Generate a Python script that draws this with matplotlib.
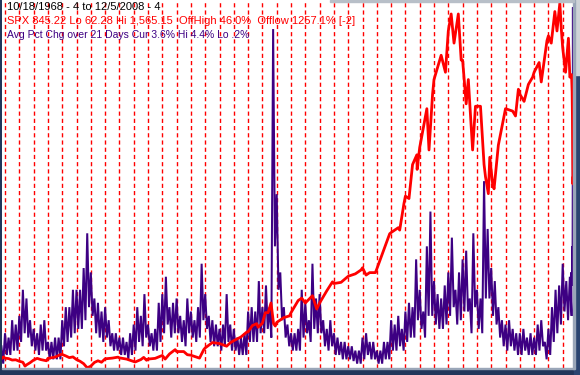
import numpy as np
import matplotlib
matplotlib.use('Agg')
import matplotlib.pyplot as plt
from matplotlib.patches import Rectangle

# SPX close (year, value)
spx_years = [1968.80, 1968.90, 1969.00, 1969.25, 1969.50, 1969.75, 1970.00, 1970.25, 1970.40, 1970.50,
             1970.75, 1971.00, 1971.25, 1971.50, 1971.90, 1972.00, 1972.50, 1972.90, 1973.00, 1973.25,
             1973.50, 1973.75, 1974.00, 1974.25, 1974.50, 1974.75, 1975.00, 1975.25, 1975.50, 1975.75,
             1976.00, 1976.50, 1976.90, 1977.00, 1977.50, 1978.10, 1978.50, 1978.70, 1978.90, 1979.00,
             1979.50, 1979.75, 1980.00, 1980.20, 1980.50, 1980.90, 1981.00, 1981.50, 1981.75, 1982.00,
             1982.60, 1982.90, 1983.00, 1983.50, 1983.90, 1984.00, 1984.50, 1984.75, 1985.00, 1985.50,
             1985.90, 1986.00, 1986.30, 1986.60, 1986.70, 1987.00, 1987.20, 1987.40, 1987.60, 1987.78,
             1987.90, 1988.00, 1988.50, 1988.90, 1989.00, 1989.50, 1989.75, 1990.00, 1990.50, 1990.80,
             1991.00, 1991.50, 1991.90, 1992.00, 1992.50, 1992.90, 1993.00, 1993.50, 1993.90, 1994.00,
             1994.25, 1994.50, 1994.90, 1995.00, 1995.50, 1995.90, 1996.00, 1996.50, 1996.60, 1996.90,
             1997.00, 1997.25, 1997.50, 1997.80, 1997.82, 1998.00, 1998.50, 1998.65, 1998.90, 1999.00,
             1999.50, 1999.80, 2000.00, 2000.20, 2000.40, 2000.70, 2000.90, 2001.00, 2001.25, 2001.40,
             2001.70, 2001.90, 2002.00, 2002.25, 2002.50, 2002.60, 2002.80, 2002.90, 2003.10, 2003.20,
             2003.50, 2003.90, 2004.00, 2004.50, 2004.70, 2004.90, 2005.00, 2005.30, 2005.60, 2005.90,
             2006.00, 2006.35, 2006.50, 2006.90, 2007.00, 2007.20, 2007.45, 2007.60, 2007.80, 2007.90,
             2008.00, 2008.20, 2008.40, 2008.50, 2008.62, 2008.66, 2008.68, 2008.70, 2008.715, 2008.72]
spx_vals = [103, 108, 103, 101, 95, 96, 90, 86, 70, 75,
            84, 95, 102, 97, 92, 102, 107, 118, 118, 112,
            105, 108, 97, 90, 80, 63, 70, 85, 92, 86,
            100, 103, 107, 104, 99, 87, 97, 106, 94, 99,
            102, 108, 114, 99, 120, 138, 130, 130, 117, 115,
            103, 138, 145, 167, 164, 163, 152, 166, 175, 190,
            210, 211, 237, 245, 230, 247, 290, 290, 330, 245,
            235, 250, 270, 277, 290, 340, 350, 330, 360, 305,
            330, 380, 417, 410, 415, 435, 440, 450, 466, 475,
            445, 455, 455, 470, 550, 615, 620, 640, 630, 740,
            770, 760, 900, 940, 880, 970, 1130, 960, 1190, 1250,
            1350, 1280, 1450, 1520, 1400, 1520, 1330, 1330, 1150, 1250,
            960, 1140, 1140, 1140, 900, 850, 780, 930, 820, 800,
            980, 1100, 1130, 1120, 1100, 1210, 1190, 1160, 1230, 1260,
            1280, 1320, 1240, 1410, 1430, 1400, 1530, 1450, 1565, 1460,
            1380, 1280, 1420, 1260, 1270, 1200, 1100, 900, 820, 845]

# Avg pct change over 21 days: quarterly high / low swings of the purple line
vol_start = 1968.75
vol_hi = [0.45,
          0.6, 0.55, 0.75, 0.7,   0.8, 1.1, 1.0, 0.75,   0.65, 0.6, 0.7, 0.75,   0.5, 0.5, 0.55, 0.55,
          0.75, 0.9, 0.9, 1.1,    1.1, 1.1, 1.35, 1.75,  1.3, 1.0, 0.95, 0.85,   0.9, 0.75, 0.6, 0.6,
          0.55, 0.55, 0.5, 0.6,   0.7, 0.9, 0.8, 1.05,   0.7, 0.6, 0.65, 0.95,   1.05, 1.25, 0.9, 0.95,
          1.0, 0.8, 0.75, 1.0,    0.85, 0.75, 0.9, 1.4,  1.05, 0.8, 0.75, 0.7,   0.65, 0.7, 1.05, 0.7,
          0.65, 0.55, 0.55, 0.6,  0.85, 0.9, 0.85, 1.2,  0.9, 1.15, 0.9, 4.1,    2.2, 1.3, 0.9, 0.7,
          0.6, 0.6, 0.65, 1.1,    0.95, 0.75, 1.4, 1.0,  1.05, 0.75, 0.65, 0.75, 0.6, 0.55, 0.5, 0.5,
          0.45, 0.45, 0.4, 0.4,   0.55, 0.6, 0.5, 0.5,   0.4, 0.4, 0.5, 0.5,     0.75, 0.7, 0.8, 0.65,
          0.85, 0.95, 0.9, 1.45,  1.1, 0.85, 1.6, 2.0,   1.2, 1.05, 1.0, 1.15,   1.3, 1.7, 1.1, 1.3,
          1.45, 1.55, 1.0, 1.75,  1.1, 1.0, 2.35, 1.8,   1.35, 1.2, 0.9, 0.75,   0.7, 0.75, 0.65, 0.6,
          0.6, 0.65, 0.55, 0.6,   0.55, 0.7, 0.75, 0.5,  0.65, 0.9, 1.1, 1.15,   1.4, 1.2, 1.25]
vol_lo = [0.25,
          0.35, 0.35, 0.4, 0.4,   0.5, 0.6, 0.55, 0.45,  0.4, 0.35, 0.4, 0.4,    0.3, 0.3, 0.3, 0.3,
          0.45, 0.5, 0.55, 0.6,   0.65, 0.65, 0.75, 0.9, 0.8, 0.6, 0.55, 0.5,    0.55, 0.45, 0.4, 0.4,
          0.35, 0.35, 0.3, 0.35,  0.4, 0.5, 0.45, 0.55,  0.45, 0.4, 0.4, 0.5,    0.6, 0.7, 0.55, 0.6,
          0.6, 0.5, 0.45, 0.6,    0.55, 0.5, 0.55, 0.75, 0.65, 0.5, 0.45, 0.45,  0.4, 0.45, 0.5, 0.4,
          0.4, 0.35, 0.35, 0.35,  0.5, 0.5, 0.5, 0.6,    0.6, 0.65, 0.55, 1.6,   1.1, 0.75, 0.55, 0.45,
          0.4, 0.4, 0.4, 0.55,    0.6, 0.5, 0.65, 0.6,   0.6, 0.45, 0.4, 0.45,   0.35, 0.35, 0.3, 0.3,
          0.3, 0.28, 0.25, 0.25,  0.3, 0.35, 0.3, 0.3,   0.25, 0.25, 0.3, 0.3,   0.4, 0.4, 0.45, 0.4,
          0.5, 0.55, 0.55, 0.75,  0.65, 0.55, 0.8, 0.8,  0.7, 0.65, 0.65, 0.7,   0.8, 0.9, 0.7, 0.75,
          0.85, 0.85, 0.6, 0.9,   0.65, 0.6, 1.0, 1.0,   0.8, 0.7, 0.55, 0.45,   0.4, 0.45, 0.4, 0.35,
          0.35, 0.4, 0.35, 0.35,  0.35, 0.4, 0.45, 0.3,  0.35, 0.5, 0.6, 0.7,    0.85, 0.75, 0.8]
vol_tail_years = [2008.60, 2008.64, 2008.67, 2008.69, 2008.705, 2008.715, 2008.72]
vol_tail = [1.3, 1.15, 1.6, 1.3, 2.5, 4.35, 3.6]

year_lines = list(range(1969, 2009))

title1 = "10/18/1968 - 4 to 12/5/2008 - 4"
title2 = "SPX 845.22 Lo 62.28 Hi 1,565.15  OffHigh 46.0%  Offlow 1257.1% [-2]"
title3 = "Avg Pct Chg over 21 Days Cur 3.6% Hi 4.4% Lo .2%"

RED = '#ff0000'
PURPLE = '#3d0083'
W, H = 580, 375
plt.rcParams['lines.scale_dashes'] = False

fig = plt.figure(figsize=(W / 100, H / 100), dpi=100, facecolor='#22355a')
# window frame bits
fig.patches.append(Rectangle((574 / W, 0), 6 / W, 1, transform=fig.transFigure,
                             color='#2b4470', zorder=0))
fig.patches.append(Rectangle((574 / W, (H - 75) / H), 6 / W, 75 / H, transform=fig.transFigure,
                             color='#cfd3d8', zorder=0))
fig.patches.append(Rectangle((2 / W, 6 / H), 572 / W, 1.5 / H, transform=fig.transFigure,
                             color='#9aa6b8', zorder=0))
fig.patches.append(Rectangle((573 / W, 6 / H), 1.5 / W, 369 / H, transform=fig.transFigure,
                             color='#9aa6b8', zorder=0))

ax = fig.add_axes([2 / W, 7 / H, 571 / W, 368 / H])
ax.set_facecolor('white')
for s in ax.spines.values():
    s.set_visible(False)
ax.set_xticks([])
ax.set_yticks([])
ax.set_xlim(1968.79, 2008.72)
ax.set_ylim(0.2, 0.2 + 4.2 * 368 / 365)

for yr in year_lines:
    ax.axvline(yr, color=RED, lw=1.0, dashes=(3.0, 2.2), zorder=1)

# purple: interleave quarterly highs and lows
n = len(vol_hi)
qx = vol_start + 0.25 * np.arange(n)
vx = np.empty(2 * n)
vy = np.empty(2 * n)
vx[0::2] = qx
vx[1::2] = qx + 0.125
vy[0::2] = vol_hi
vy[1::2] = vol_lo
vx = np.concatenate([vx, vol_tail_years])
vy = np.concatenate([vy, vol_tail])
ax.plot(vx, vy, color=PURPLE, lw=1.45, zorder=2, solid_joinstyle='miter')

ax2 = ax.twinx()
ax2.set_ylim(62.28, 62.28 + (1565.15 - 62.28) * 368 / 365)
ax2.set_xlim(1968.79, 2008.72)
ax2.axis('off')
ax2.plot(spx_years, spx_vals, color=RED, lw=2.0, zorder=3)

# thin grey edge at top right of the window
fig.patches.append(Rectangle((330 / W, (H - 2) / H), 244 / W, 2 / H, transform=fig.transFigure,
                             color='#b8bfc8', zorder=5))

fkw = dict(family='Liberation Sans', va='center', ha='left')
fig.text(7 / W, 1 - 6.5 / H, title1, color='black', fontsize=8, **fkw)
fig.text(7 / W, 1 - 20.5 / H, title2, color=RED, fontsize=8, **fkw)
fig.text(7 / W, 1 - 34.5 / H, title3, color=PURPLE, fontsize=7.5, **fkw)

fig.savefig('out.png', dpi=100, facecolor=fig.get_facecolor())
